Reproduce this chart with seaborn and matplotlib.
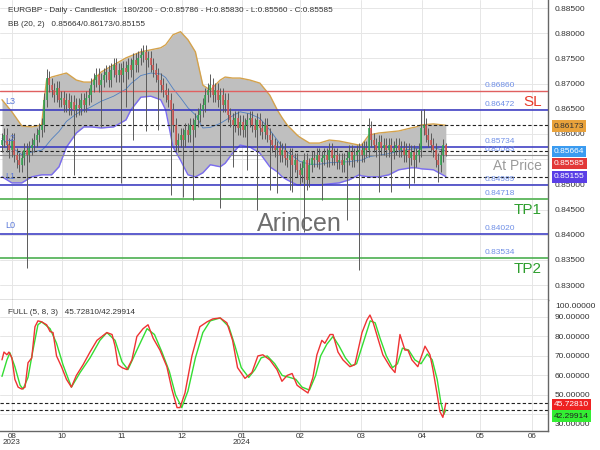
import matplotlib
matplotlib.use("Agg")
import matplotlib.pyplot as plt
import matplotlib.ticker as mticker
import numpy as np
import seaborn as sns

# ---------------- data (prices x 10000) ----------------
opens = [8578,8588,8598,8578,8568,8588,8558,8548,8539,8552,
         8568,8558,8572,8578,8588,8598,8608,8618,8668,8711,
         8697,8687,8677,8691,8668,8671,8658,8668,8652,8664,
         8648,8658,8652,8668,8658,8671,8677,8697,8707,8717,
         8697,8707,8717,8723,8707,8727,8737,8717,8727,8717,
         8731,8723,8737,8727,8747,8737,8751,8757,8763,8747,
         8751,8737,8727,8717,8707,8697,8687,8677,8668,8648,
         8618,8578,8588,8598,8588,8608,8598,8618,8608,8628,
         8638,8648,8658,8677,8687,8697,8677,8687,8668,8677,
         8658,8668,8638,8628,8618,8632,8612,8624,8608,8618,
         8628,8632,8618,8608,8628,8612,8604,8618,8598,8588,
         8578,8568,8572,8558,8568,8552,8548,8558,8539,8548,
         8529,8519,8533,8548,8509,8539,8552,8548,8558,8544,
         8552,8558,8548,8568,8552,8558,8544,8548,8539,8548,
         8552,8564,8548,8558,8564,8568,8558,8572,8568,8612,
         8588,8578,8568,8584,8572,8578,8568,8578,8564,8572,
         8578,8568,8572,8558,8568,8552,8564,8548,8558,8568,
         8612,8618,8598,8588,8578,8568,8548,8539,8558,8578.6]
highs = [8602,8612,8612,8592,8602,8602,8572,8562,8566,8582,
         8582,8586,8592,8602,8612,8622,8632,8682,8728,8725,
         8711,8701,8705,8705,8685,8685,8682,8682,8678,8678,
         8672,8672,8682,8682,8685,8691,8711,8721,8731,8731,
         8721,8731,8737,8737,8741,8751,8751,8741,8741,8745,
         8745,8751,8751,8761,8761,8765,8771,8777,8777,8765,
         8765,8751,8741,8731,8721,8711,8701,8691,8682,8662,
         8632,8602,8612,8612,8622,8622,8632,8632,8642,8652,
         8662,8672,8691,8701,8719,8711,8701,8701,8691,8691,
         8682,8682,8652,8642,8646,8646,8638,8638,8632,8642,
         8646,8646,8632,8642,8642,8626,8632,8632,8612,8602,
         8592,8586,8586,8582,8582,8566,8572,8572,8562,8562,
         8543,8547,8562,8562,8553,8566,8566,8572,8572,8566,
         8572,8572,8582,8582,8572,8572,8562,8562,8562,8566,
         8578,8578,8572,8578,8582,8582,8586,8586,8632,8626,
         8602,8592,8598,8598,8592,8592,8592,8592,8586,8592,
         8592,8586,8586,8582,8582,8578,8578,8572,8582,8648,
         8650,8632,8612,8602,8592,8582,8562,8572,8590,8583]
lows = [8564,8574,8564,8552,8554,8544,8532,8525,8525,8538,
        8334,8544,8558,8564,8574,8584,8594,8604,8654,8683,
        8673,8663,8663,8654,8654,8644,8644,8638,8638,8519,
        8634,8638,8638,8644,8644,8657,8663,8683,8693,8683,
        8614,8693,8703,8693,8693,8713,8703,8703,8503,8703,
        8654,8709,8713,8588,8723,8723,8737,8743,8606,8733,
        8723,8713,8703,8608,8683,8673,8663,8654,8479,8604,
        8564,8564,8574,8475,8574,8584,8584,8469,8594,8614,
        8624,8634,8644,8663,8673,8663,8663,8654,8453,8644,
        8644,8624,8614,8535,8604,8598,8598,8594,8594,8529,
        8614,8604,8594,8449,8598,8590,8590,8584,8489,8564,
        8554,8483,8544,8544,8538,8534,8489,8485,8525,8515,
        8499,8505,8406,8489,8495,8525,8534,8534,8530,8469,
        8538,8534,8534,8538,8538,8530,8530,8525,8525,8429,
        8538,8534,8534,8544,8330,8544,8544,8554,8554,8574,
        8564,8554,8485,8558,8558,8554,8554,8485,8550,8558,
        8554,8554,8544,8544,8493,8538,8503,8534,8544,8554,
        8598,8584,8574,8564,8554,8534,8505,8525,8544,8556]
closes = [8588,8598,8578,8568,8588,8558,8548,8539,8552,8568,
          8558,8572,8578,8588,8598,8608,8618,8668,8711,8697,
          8687,8677,8691,8668,8671,8658,8668,8652,8664,8648,
          8658,8652,8668,8658,8671,8677,8697,8707,8717,8697,
          8707,8717,8723,8707,8727,8737,8717,8727,8717,8731,
          8723,8737,8727,8747,8737,8751,8757,8763,8747,8751,
          8737,8727,8717,8707,8697,8687,8677,8668,8648,8618,
          8578,8588,8598,8588,8608,8598,8618,8608,8628,8638,
          8648,8658,8677,8687,8697,8677,8687,8668,8677,8658,
          8668,8638,8628,8618,8632,8612,8624,8608,8618,8628,
          8632,8618,8608,8628,8612,8604,8618,8598,8588,8578,
          8568,8572,8558,8568,8552,8548,8558,8539,8548,8529,
          8519,8533,8548,8509,8539,8552,8548,8558,8544,8552,
          8558,8548,8568,8552,8558,8544,8548,8539,8548,8552,
          8564,8548,8558,8564,8568,8558,8572,8568,8612,8588,
          8578,8568,8584,8572,8578,8568,8578,8564,8572,8578,
          8568,8572,8558,8568,8552,8564,8548,8558,8568,8612,
          8618,8598,8588,8578,8568,8548,8539,8558,8579,8558.5]

# Bollinger bands (20, 2) at these bar positions
band_pos = [0,4,8,12,16,17,18,20,23,26,30,33,36,40,45,50,52,56,60,64,66,69,72,75,78,
            81,84,88,90,93,96,100,104,108,111,113,115,119,120,124,128,132,136,140,
            144,145,148,152,156,160,165,167,169,174,179]
bb_upper = [8668,8644,8616,8614,8618,8668,8707,8713,8717,8721,8707,8703,8703,8723,8737,
            8751,8755,8763,8767,8771,8777,8797,8803,8787,8763,8697,8687,8707,8713,8711,
            8711,8707,8701,8677,8648,8632,8618,8598,8594,8582,8582,8588,8586,8582,8578,
            8578,8598,8602,8604,8606,8612,8614,8618,8620,8617.3]
bb_lower = [8515,8503,8503,8515,8519,8519,8519,8519,8535,8574,8602,8614,8614,8612,8614,
            8628,8648,8673,8675,8668,8648,8574,8548,8519,8515,8523,8539,8535,8542,8562,
            8578,8574,8562,8535,8525,8515,8509,8499,8499,8499,8499,8501,8503,8509,8519,
            8517,8515,8515,8519,8529,8533,8533,8531,8529,8515.5]
bb_mid = [8591,8573,8559,8564,8568,8572,8578,8590,8605,8625,8640,8647,8654,8665,8675,
          8689,8700,8716,8721,8719,8712,8690,8672,8652,8638,8612,8613,8621,8627,8636,
          8644,8640,8631,8608,8588,8575,8565,8550,8546,8540,8540,8543,8544,8545,8548,
          8548,8555,8558,8561,8566,8570,8571,8572,8573,8566.4]

# Full stochastic (5, 8, 3)
k_pos = [0,0.8,2,2.8,4,5.2,6.5,8,9.3,10.5,12,13.3,14.5,16,18,19.4,20.6,22,24,26,28,30,32.7,
         35.5,38.3,40.3,42.3,44.4,45.6,46.8,48.4,50.4,52.4,54.4,56.9,58.9,61,63.7,66.5,68.5,
         70.6,71.8,73.8,76.6,79.8,82.7,85,88,90.7,93,95,98,100.8,103.2,105.2,108,110.9,112.9,
         115,117,119,120,123.4,125.4,127,129,130.2,132.3,133.5,135.5,137.5,140.3,142.3,145.2,
         147.2,148.4,149.6,151.6,153.6,156.5,158.5,160.5,162.5,163.7,165.3,167.7,170.6,172.6,
         173.8,175.4,176.6,177.8,179]
k_vals = [68,72,70.6,72,69,58,54,53,54,66.5,69,85,88,87.5,86,82.5,82,70,64.5,58,54,60,65.5,
          72,78,80,82,81,75,65.5,64,63,68,80,84,86,79,73,64.5,53,43.5,43.5,51,70,85,87.5,89,
          89.5,87,78,64,58.5,61.5,70,70.6,68,63,57,60,61,55,54,51,59,70.6,78,76.5,81,81,72,68,
          64.5,65.5,82,88.5,91,87.5,79,70.6,64.5,61.5,81,73,73,68,64.5,75,70.6,63,51,41.5,38.5,
          45.7281]
d_pos = [0,2,3.2,5.2,7.3,8.5,10.5,12.5,14.5,16,19.4,22,24.6,28,31.5,35.5,39.5,42.3,45.6,48.4,
         50.8,54.4,58.5,61.5,64.5,67.5,70,72.5,75,78,81,84,88,91.5,94,96.5,99.5,102,104.5,107,
         110,113,116,118.5,121,124,126.5,128.5,131,133.5,136,138.5,141,143,146,148.5,150.5,
         152.5,155,157.5,159.5,161.5,164,166.5,169,171.5,173.5,175.5,177,178.2,179]
d_vals = [59.5,68,71.6,64.5,55,53,59,73,86,87.5,84,76.5,65.5,54,61.5,69,78,82,78,67,63,73,84,
          81,72,62,50,43.5,52,69,82,88,89.5,85,75,64,59,63,69,70,66,60,59,58,54,52.5,60,70,76,
          80,75,69,65,66,78,88,87,79,70,64,66,74,73,68,66,71,68,58,46,40,42.29914]

# levels
level_prices = [0.86860, 0.86472, 0.85734, 0.85583, 0.84989, 0.84718, 0.84020, 0.83534]
level_names = {"L3": 0.86472, "L2": 0.85734, "L1": 0.84989, "L0": 0.84020}
sl_price, tp1_price, tp2_price, at_price = 0.86860, 0.84718, 0.83534, 0.85585
bb_last = (0.85664, 0.86173, 0.85155)
stoch_last = (45.72810, 42.29914)

month_pos = [4.0, 24.2, 48.4, 72.6, 96.8, 120.2, 144.8, 169.4, 192.7, 213.7]
month_labels = ["08\n2023", "10", "11", "12", "01\n2024", "02", "03", "04", "05", "06"]

title_main = "EURGBP - Daily - Candlestick   180/200 - O:0.85786 - H:0.85830 - L:0.85560 - C:0.85585"
title_bb = "BB (20, 2)   0.85664/0.86173/0.85155"
title_st = "FULL (5, 8, 3)   45.72810/42.29914"

# ---------------- drawing ----------------
sns.set_theme(style="white")
plt.rcParams['font.family'] = ['Liberation Sans', 'DejaVu Sans']

W, H = 600, 450
FS = 6.0
FT = 5.9
FX = 5.8
fig = plt.figure(figsize=(6, 4.5), dpi=100)
ax = fig.add_axes([0, 1 - 300 / H, 548 / W, 300 / H])
ax2 = fig.add_axes([0, 1 - 431 / H, 548 / W, 131 / H])

def fy(py):
    return 1 - py / H

def fx(px):
    return px / W

o = np.array(opens) / 1e4
h = np.array(highs) / 1e4
l = np.array(lows) / 1e4
c = np.array(closes) / 1e4
xi = np.arange(len(c))

XL = (-0.8, 220.2)
for a in (ax, ax2):
    a.set_xlim(*XL)
    a.set_xticks(month_pos)
    a.grid(True, color='#e6e6e6', lw=0.7, zorder=0)
    a.set_facecolor('white')
    for s in ('left', 'top'):
        a.spines[s].set_visible(False)
    for s in ('right', 'bottom'):
        a.spines[s].set_color('#666666')
        a.spines[s].set_linewidth(1.0)
    a.yaxis.tick_right()
    a.tick_params(axis='both', length=0, labelsize=FS, labelcolor='#333333', pad=5)
    a.set_axisbelow(True)

ax.set_ylim(0.82706, 0.88659)
ax.set_yticks(np.arange(0.830, 0.8851, 0.005))
hidden_main = {"0.85500"}
ax.yaxis.set_major_formatter(mticker.FuncFormatter(
    lambda v, p: "" if f"{v:.5f}" in hidden_main else f"{v:.5f}"))
ax.set_xticklabels([])

# Bollinger band area and lines
bp = np.array(band_pos)
ax.fill_between(bp, np.array(bb_upper) / 1e4, np.array(bb_lower) / 1e4,
                color='#bfbfbf', lw=0, zorder=1)
sns.lineplot(x=bp, y=np.array(bb_upper) / 1e4, ax=ax, color='#d4a24c', lw=1.0,
             estimator=None, sort=False, zorder=2)
sns.lineplot(x=bp, y=np.array(bb_lower) / 1e4, ax=ax, color='#7a6cf0', lw=1.0,
             estimator=None, sort=False, zorder=2)
sns.lineplot(x=bp, y=np.array(bb_mid) / 1e4, ax=ax, color='#4f7fc0', lw=0.6,
             estimator=None, sort=False, zorder=2)

# level lines
blue = '#3232c0'
ax.axhline(sl_price, color='#e06060', lw=1.0, zorder=3)
ax.axhline(0.86472, color=blue, lw=1.1, zorder=3)
ax.axhline(0.85734, color=blue, lw=1.1, zorder=3)
ax.axhline(0.84989, color=blue, lw=1.1, zorder=3)
ax.axhline(0.84020, color=blue, lw=1.1, zorder=3)
ax.axhline(tp1_price, color='#66bb66', lw=1.4, zorder=3)
ax.axhline(tp2_price, color='#4caf50', lw=1.2, zorder=3)
ax.axhline(at_price, color='#8a8a8a', lw=0.8, zorder=3)
for v in bb_last:
    ax.axhline(v, color='#222222', lw=0.8, ls=(0, (3, 2)), zorder=3)

# candles
up = c >= o
ax.vlines(xi, l, h, color='#5a5a5a', lw=0.7, zorder=4)
ax.vlines(xi[up], o[up], c[up], color='#2fa84f', lw=1.1, zorder=5)
ax.vlines(xi[~up], c[~up], o[~up], color='#d9534f', lw=1.1, zorder=5)

# level value labels
for v in level_prices:
    ax.annotate(f"{v:.5f}", (194.8, v), xytext=(0, 1.5), textcoords='offset points',
                fontsize=FS, color='#6f8fe6', ha='left', va='bottom', zorder=6)
for name, v in level_names.items():
    ax.annotate(name, (1.2, v), xytext=(0, 3), textcoords='offset points',
                fontsize=6.5, color='#5a78d8', ha='left', va='bottom', zorder=6)

big = dict(ha='right', va='top', textcoords='offset points', zorder=6)
ax.annotate("SL", (217.7, sl_price), xytext=(0, -3), fontsize=11, color='#e83a2a', **big)
ax.annotate("TP1", (217.7, tp1_price), xytext=(0, -3), fontsize=11, color='#2e9e2e', **big)
ax.annotate("TP2", (217.7, tp2_price), xytext=(0, -3), fontsize=11, color='#2e9e2e', **big)
ax.annotate("At Price", (217.7, at_price), xytext=(0, -3), fontsize=10, color='#9a9a9a', **big)

ax.text(120, 0.84214, "Arincen", fontsize=18, color='#6e6e6e', ha='center', va='center', zorder=6)

ax.text(8 / 548, 1 - 11 / 300, title_main, transform=ax.transAxes, fontsize=FT,
        color='#333333', ha='left', va='center', zorder=7)
ax.text(8 / 548, 1 - 25 / 300, title_bb, transform=ax.transAxes, fontsize=FT,
        color='#333333', ha='left', va='center', zorder=7)

# stochastic panel
ax2.set_ylim(31.5, 98.7)
ax2.set_yticks([40, 50, 60, 70, 80, 90])
ax2.yaxis.set_major_formatter(mticker.FuncFormatter(
    lambda v, p: "" if abs(v - 40) < 1e-6 else f"{v:.5f}"))
ax2.set_xticklabels(month_labels)
ax2.tick_params(axis='x', pad=1.2, labelsize=FX)
for lbl in ax2.get_xticklabels():
    lbl.set_linespacing(0.9)
sns.lineplot(x=d_pos, y=d_vals, ax=ax2, color='#33dd33', lw=1.0, estimator=None, sort=False, zorder=3)
sns.lineplot(x=k_pos, y=k_vals, ax=ax2, color='#ee3333', lw=1.0, estimator=None, sort=False, zorder=4)
for v in stoch_last:
    ax2.axhline(v, color='#222222', lw=0.8, ls=(0, (3, 2)), zorder=2)
ax2.text(8 / 548, 1 - 12 / 131, title_st, transform=ax2.transAxes, fontsize=FT,
         color='#333333', ha='left', va='center', zorder=7)
fig.text(fx(555), fy(306), "100.00000", fontsize=FS, color='#333333', va='center', ha='left')
fig.text(fx(555), fy(425), "30.00000", fontsize=FS, color='#333333', va='center', ha='left')

# value boxes on the right scale
def box(py, txt, fc, tc):
    fig.text(fx(554), fy(py), txt, fontsize=FS, color=tc, va='center', ha='left', zorder=10,
             bbox=dict(boxstyle='square,pad=0.25', facecolor=fc, edgecolor='none'))

box(126, f"{bb_last[1]:.5f}", '#e9a23b', '#333333')
box(151.5, f"{bb_last[0]:.5f}", '#3a9bf0', 'white')
box(163.5, f"{at_price:.5f}", '#e23838', 'white')
box(177, f"{bb_last[2]:.5f}", '#5a3ee6', 'white')
box(404.5, f"{stoch_last[0]:.5f}", '#ee2222', 'white')
box(416, f"{stoch_last[1]:.5f}", '#33ee33', '#222222')

ax.set_xlabel(''); ax.set_ylabel('')
ax2.set_xlabel(''); ax2.set_ylabel('')
fig.savefig("out.png", dpi=100)
